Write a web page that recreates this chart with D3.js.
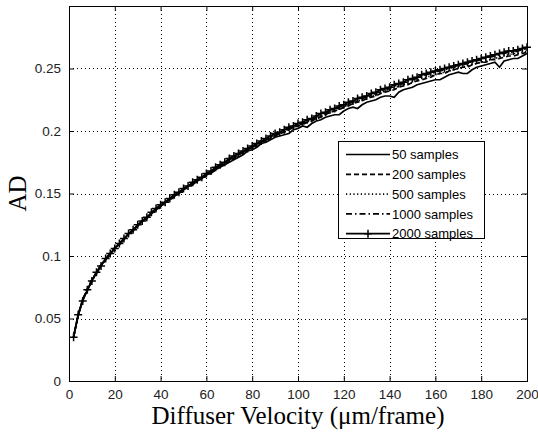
<!DOCTYPE html>
<html>
<head>
<meta charset="utf-8">
<script src="https://cdn.jsdelivr.net/npm/d3@7"></script>
<style>
  html, body { margin: 0; padding: 0; background: #fff; }
  svg { display: block; }
</style>
</head>
<body>
<svg id="chart" width="538" height="434"></svg>
<script>
// ---- data ----
const velocity = d3.range(2, 201, 2); // 2,4,...,200
const xTicks = [0, 20, 40, 60, 80, 100, 120, 140, 160, 180, 200];
const yTicks = [0, 0.05, 0.1, 0.15, 0.2, 0.25];
const yTickLabels = ["0", "0.05", "0.1", "0.15", "0.2", "0.25"];
const seriesNames = ["50 samples", "200 samples", "500 samples", "1000 samples", "2000 samples"];

const s50 = [0.036,0.052,0.066,0.072,0.081,0.086,0.093,0.097,0.101,0.107,
0.109,0.113,0.118,0.120,0.124,0.128,0.130,0.134,0.137,0.140,
0.143,0.145,0.148,0.150,0.153,0.156,0.157,0.160,0.162,0.165,
0.166,0.169,0.171,0.173,0.175,0.177,0.179,0.181,0.184,0.185,
0.187,0.190,0.191,0.193,0.195,0.196,0.197,0.198,0.201,0.202,
0.204,0.203,0.206,0.208,0.209,0.211,0.212,0.213,0.213,0.216,
0.218,0.219,0.218,0.221,0.223,0.224,0.225,0.227,0.228,0.228,
0.227,0.231,0.233,0.234,0.235,0.237,0.238,0.239,0.240,0.241,
0.241,0.243,0.245,0.246,0.247,0.246,0.246,0.249,0.251,0.252,
0.253,0.254,0.255,0.251,0.256,0.257,0.258,0.258,0.260,0.262];

const s200 = [0.035,0.053,0.065,0.074,0.081,0.087,0.093,0.097,0.102,0.106,
0.110,0.114,0.117,0.121,0.124,0.128,0.131,0.134,0.137,0.140,
0.143,0.146,0.148,0.151,0.153,0.156,0.158,0.160,0.163,0.165,
0.167,0.170,0.172,0.174,0.177,0.178,0.181,0.183,0.185,0.187,
0.189,0.191,0.193,0.194,0.196,0.198,0.199,0.201,0.203,0.204,
0.205,0.207,0.208,0.210,0.211,0.213,0.215,0.216,0.217,0.219,
0.220,0.222,0.223,0.224,0.226,0.227,0.228,0.230,0.231,0.232,
0.233,0.235,0.236,0.237,0.239,0.240,0.241,0.242,0.243,0.245,
0.246,0.246,0.248,0.249,0.250,0.251,0.251,0.253,0.254,0.255,
0.255,0.257,0.257,0.258,0.259,0.260,0.260,0.261,0.262,0.263];

const s500 = [0.035,0.053,0.064,0.074,0.080,0.087,0.092,0.098,0.102,0.106,
0.110,0.114,0.117,0.121,0.124,0.128,0.131,0.134,0.137,0.140,
0.143,0.145,0.148,0.151,0.153,0.156,0.158,0.160,0.163,0.165,
0.167,0.170,0.172,0.174,0.177,0.179,0.181,0.183,0.185,0.187,
0.189,0.191,0.193,0.195,0.196,0.198,0.200,0.201,0.203,0.204,
0.206,0.207,0.209,0.210,0.212,0.213,0.215,0.216,0.218,0.219,
0.221,0.222,0.224,0.225,0.226,0.228,0.229,0.230,0.232,0.233,
0.234,0.236,0.237,0.238,0.239,0.241,0.242,0.243,0.244,0.245,
0.246,0.247,0.248,0.249,0.250,0.251,0.252,0.253,0.254,0.255,
0.256,0.257,0.258,0.259,0.260,0.261,0.262,0.262,0.263,0.264];

const s1000 = [0.035,0.053,0.065,0.073,0.080,0.086,0.092,0.097,0.102,0.106,
0.110,0.114,0.117,0.121,0.124,0.128,0.131,0.134,0.137,0.140,
0.143,0.146,0.148,0.151,0.153,0.156,0.158,0.161,0.163,0.165,
0.168,0.170,0.172,0.175,0.177,0.179,0.181,0.183,0.185,0.187,
0.189,0.191,0.193,0.195,0.197,0.198,0.200,0.202,0.203,0.205,
0.206,0.208,0.209,0.211,0.213,0.214,0.216,0.217,0.219,0.220,
0.222,0.223,0.225,0.226,0.227,0.229,0.230,0.232,0.233,0.234,
0.236,0.237,0.238,0.240,0.241,0.242,0.244,0.245,0.246,0.247,
0.248,0.249,0.250,0.251,0.252,0.253,0.254,0.255,0.256,0.257,
0.258,0.259,0.260,0.261,0.262,0.263,0.263,0.264,0.265,0.266];

const s2000 = [0.035,0.053,0.064,0.073,0.080,0.087,0.092,0.098,0.102,0.106,
0.110,0.114,0.118,0.121,0.125,0.128,0.131,0.135,0.138,0.141,
0.143,0.146,0.149,0.151,0.154,0.156,0.159,0.161,0.163,0.166,
0.168,0.171,0.173,0.175,0.178,0.180,0.182,0.184,0.186,0.188,
0.190,0.192,0.194,0.196,0.198,0.199,0.201,0.203,0.204,0.206,
0.207,0.209,0.210,0.212,0.214,0.215,0.217,0.218,0.220,0.221,
0.223,0.224,0.226,0.227,0.228,0.230,0.231,0.233,0.234,0.235,
0.237,0.238,0.239,0.241,0.242,0.243,0.245,0.246,0.247,0.248,
0.249,0.250,0.251,0.252,0.253,0.254,0.255,0.256,0.257,0.258,
0.259,0.260,0.261,0.262,0.263,0.264,0.264,0.265,0.266,0.267];

(function () {
// ---- layout ----
const svg = d3.select("#chart");
const pL = 69, pR = 527, pT = 6, pB = 381;
const sans = "'Liberation Sans', Arial, sans-serif";
const serif = "'Liberation Serif', 'Times New Roman', serif";

const x = d3.scaleLinear().domain([0, 200]).range([pL, pR]);
const y = d3.scaleLinear().domain([0, 0.3]).range([pB, pT]);

const styles = [
  { name: seriesNames[0], data: s50,   dash: null },
  { name: seriesNames[1], data: s200,  dash: "5,3" },
  { name: seriesNames[2], data: s500,  dash: "1.2,2.5" },
  { name: seriesNames[3], data: s1000, dash: "6,3,1.5,3" },
  { name: seriesNames[4], data: s2000, dash: null, marker: true }
];

svg.append("rect").attr("x", 0).attr("y", 0).attr("width", 538).attr("height", 434).attr("fill", "#fff");

// grid
const grid = svg.append("g").attr("stroke", "#000").attr("stroke-width", 1)
  .attr("stroke-dasharray", "1,3").attr("shape-rendering", "crispEdges");
xTicks.slice(1, -1).forEach(t => {
  grid.append("line").attr("x1", Math.round(x(t)) + 0.5).attr("x2", Math.round(x(t)) + 0.5)
    .attr("y1", pT).attr("y2", pB);
});
yTicks.slice(1).forEach(t => {
  grid.append("line").attr("y1", Math.round(y(t)) + 0.5).attr("y2", Math.round(y(t)) + 0.5)
    .attr("x1", pL).attr("x2", pR);
});

// axes (box with inward ticks)
const tickLen = 5;
const axB = svg.append("g").attr("transform", `translate(0,${pB})`)
  .call(d3.axisBottom(x).tickValues(xTicks).tickSizeInner(-tickLen).tickSizeOuter(0).tickPadding(8));
const axT = svg.append("g").attr("transform", `translate(0,${pT})`)
  .call(d3.axisTop(x).tickValues(xTicks).tickSizeInner(-tickLen).tickSizeOuter(0).tickFormat(""));
const axL = svg.append("g").attr("transform", `translate(${pL},0)`)
  .call(d3.axisLeft(y).tickValues(yTicks).tickSizeInner(-tickLen).tickSizeOuter(0).tickPadding(8)
    .tickFormat((d, i) => yTickLabels[i]));
const axR = svg.append("g").attr("transform", `translate(${pR},0)`)
  .call(d3.axisRight(y).tickValues(yTicks).tickSizeInner(-tickLen).tickSizeOuter(0).tickFormat(""));

[axB, axT, axL, axR].forEach(a => {
  a.select(".domain").remove();
  a.selectAll("line").attr("stroke", "#000");
  a.selectAll("text").attr("fill", "#222").style("font-family", sans)
    .style("font-size", "13.5px");
});
axB.selectAll("text").attr("dy", "0.75em");

// curves
const line = d3.line().x((d, i) => x(velocity[i])).y(d => y(d));
const curves = svg.append("g");
styles.forEach(s => {
  curves.append("path").datum(s.data)
    .attr("d", line)
    .attr("fill", "none")
    .attr("stroke", "#000")
    .attr("stroke-width", 1.7)
    .attr("stroke-dasharray", s.dash);
  if (s.marker) {
    const m = 4;
    curves.append("g").selectAll("path").data(s.data).join("path")
      .attr("d", (d, i) => {
        const cx = x(velocity[i]), cy = y(d);
        return `M${cx - m},${cy}H${cx + m}M${cx},${cy - m}V${cy + m}`;
      })
      .attr("stroke", "#000").attr("stroke-width", 1.5).attr("fill", "none");
  }
});

// frame
svg.append("rect").attr("x", pL + 0.5).attr("y", pT + 0.5)
  .attr("width", pR - pL).attr("height", pB - pT)
  .attr("fill", "none").attr("stroke", "#000").attr("stroke-width", 1)
  .attr("shape-rendering", "crispEdges");

// legend
const lg = svg.append("g");
lg.append("rect").attr("x", 338.5).attr("y", 141.5).attr("width", 146).attr("height", 97)
  .attr("fill", "#fff").attr("stroke", "#000").attr("stroke-width", 1).attr("shape-rendering", "crispEdges");
styles.forEach((s, i) => {
  const ly = 154.5 + i * 19.8;
  lg.append("line").attr("x1", 346).attr("x2", 390).attr("y1", ly).attr("y2", ly)
    .attr("stroke", "#000").attr("stroke-width", 1.7).attr("stroke-dasharray", s.dash);
  if (s.marker) {
    lg.append("path").attr("d", `M364,${ly}H372M368,${ly - 4}V${ly + 4}`)
      .attr("stroke", "#000").attr("stroke-width", 1.5);
  }
  lg.append("text").attr("x", 392).attr("y", ly).attr("dy", "0.36em")
    .attr("fill", "#000").style("font-family", sans)
    .style("font-size", "13px").text(s.name);
});

// axis labels
svg.append("text").attr("x", (pL + pR) / 2).attr("y", 424)
  .attr("text-anchor", "middle").attr("fill", "#000")
  .style("font-family", serif).style("font-size", "25px")
  .text("Diffuser Velocity (\u03BCm/frame)");
svg.append("text").attr("transform", `translate(26,${(pT + pB) / 2}) rotate(-90)`)
  .attr("text-anchor", "middle").attr("fill", "#000")
  .style("font-family", serif).style("font-size", "25px")
  .text("AD");
})();
</script>
</body>
</html>
